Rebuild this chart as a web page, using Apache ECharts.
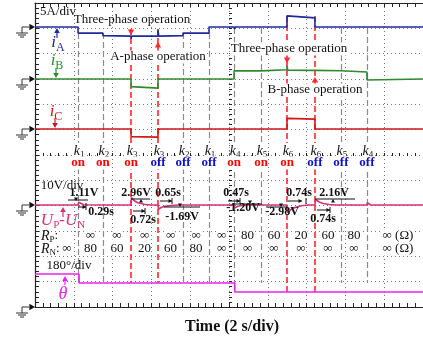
<!DOCTYPE html>
<html>
<head>
<meta charset="utf-8">
<script src="https://cdn.jsdelivr.net/npm/echarts@6/dist/echarts.min.js"></script>
<style>html,body{margin:0;padding:0;background:#fff}#main{width:423px;height:339px}</style>
</head>
<body>
<div id="main"></div>
<script>
// switching instants (s) and their labels
var tEvents = [2.22, 3.5, 4.95, 6.34, 7.63, 8.97, 10.26, 11.65, 12.99, 14.43, 15.77, 17.11];
var kIndex = ['1', '2', '3', '3', '2', '1', '4', '5', '6', '6', '5', '4'];
var kState = ['on', 'on', 'on', 'off', 'off', 'off', 'on', 'on', 'on', 'off', 'off', 'off'];
var redEvents = [2, 3, 8, 9];
var rpLabels = ['', '∞', '∞', '∞', '∞', '∞', '∞', '80', '60', '20', '60', '80', '∞ (Ω)'];
var rnLabels = ['∞', '80', '60', '20', '60', '80', '∞', '∞', '∞', '∞', '∞', '∞', '∞ (Ω)'];

// traces [time s, value]
var iA = [[0,0],[2.22,0],[2.22,-1.2],[3.5,-1.2],[3.5,-1.7],[4.95,-1.8],[4.95,-2.3],[4.99,-1.8],[6.34,-1.8],[6.34,-0.6],[6.38,-1.8],[7.63,-1.7],[7.63,-1.2],[8.97,-1.2],[8.97,0],[10.26,0],[10.28,-0.4],[10.31,0],[12.99,0],[12.99,2.2],[14.43,1.8],[14.43,0],[20,0]];
var iB = [[0,0],[4.95,0],[4.95,-1.5],[4.98,-1.8],[6.34,-1.8],[6.34,0],[10.26,0],[10.26,1.6],[11.65,1.6],[11.65,1.84],[12.99,1.82],[12.99,2.6],[13.03,1.75],[14.43,1.7],[14.43,1.64],[15.77,1.62],[15.77,1.4],[17.11,1.38],[17.11,-0.2],[17.2,0],[20,0]];
var iC = [[0,0],[4.95,0],[4.95,-1.5],[6.34,-1.6],[6.34,0],[12.99,0],[12.99,2.1],[14.43,1.95],[14.43,0],[17.3,0],[17.35,-0.15],[17.5,0],[20,0]];
var uPN = [[0,0],[2.22,0],[2.25,1.11],[2.51,0.1],[3.5,0],[3.52,0.6],[3.7,0],[4.95,0],[4.97,2.96],[5.1,1.8],[5.3,0.9],[5.67,0.2],[6.0,0],[6.34,0],[6.36,-1.69],[6.5,-1.0],[6.7,-0.5],[6.99,-0.2],[7.4,0],[7.63,0],[7.65,-0.5],[7.8,0],[8.97,0],[8.99,0.7],[9.15,0],[10.26,0],[10.28,-1.2],[10.45,-0.5],[10.73,-0.1],[11.0,0],[11.65,0],[11.67,-0.6],[11.9,0],[12.99,0],[13.01,-2.98],[13.2,-1.8],[13.4,-1.0],[13.73,-0.3],[14.1,0],[14.43,0],[14.45,2.16],[14.65,1.2],[14.85,0.6],[15.17,0.2],[15.5,0],[15.77,0],[15.79,0.4],[16.0,0],[17.11,0],[17.13,0.9],[17.3,0],[20,0]];
var theta = [[0,234],[2.27,234],[2.27,171],[10.3,171],[10.3,107],[20,107]];

// ground offset (div) and volts/amps/deg per div
function toDiv(data, ground, perDiv) {
    return data.map(function (p) { return [p[0], ground + p[1] / perDiv]; });
}
var DIV = 304 / 12;
function pyDiv(py) { return (307 - py) / DIV; }

var serif = 'Liberation Serif';
var cBlue = '#1f2a9e', cGreen = '#2f8a2f', cRed = '#d01818', cPink = '#d8307a', cMag = '#ee22ee';

var myChart = echarts.init(document.getElementById('main'));

var marks = [];
for (var i = 0; i < tEvents.length; i++) {
    var isRed = redEvents.indexOf(i) >= 0;
    var yTop = isRed ? (i >= 8 ? pyDiv(16) : pyDiv(29)) : (i < 6 ? pyDiv(33) : pyDiv(28));
    var yBot = isRed ? (i >= 8 ? pyDiv(292) : pyDiv(283)) : pyDiv(283);
    marks.push([
        {coord: [tEvents[i], yTop], lineStyle: {color: isRed ? '#ff2a2a' : '#8a8a8a', type: [6, 3], width: isRed ? 1.6 : 1.2}},
        {coord: [tEvents[i], yBot]}
    ]);
}

function trace(name, data, color) {
    return {
        name: name, type: 'line', data: data, showSymbol: false, animation: false,
        lineStyle: {color: color, width: 1.6}, z: 5
    };
}

function hidden(extra) {
    var a = {type: 'value', axisLine: {show: false}, axisTick: {show: false}, axisLabel: {show: false}, splitLine: {show: false}};
    for (var k in extra) a[k] = extra[k];
    return a;
}

var option = {
    animation: false,
    grid: [
        {left: 35, right: 0, top: 3, bottom: 32},
        {left: 35, right: 0, top: 155, height: 1},
        {left: 229, width: 1, top: 3, bottom: 32}
    ],
    xAxis: [
        {type: 'value', gridIndex: 0, min: 0, max: 20, interval: 2, position: 'bottom',
         axisLine: {onZero: false, lineStyle: {color: '#222', width: 1.2}},
         axisTick: {inside: true, length: 4, lineStyle: {color: '#222'}},
         minorTick: {show: true, splitNumber: 5, length: 4, lineStyle: {color: '#222'}},
         axisLabel: {show: false},
         splitLine: {show: true, lineStyle: {color: '#777', type: [1, 3]}}},
        {type: 'value', gridIndex: 0, min: 0, max: 20, interval: 2, position: 'top',
         axisLine: {onZero: false, lineStyle: {color: '#222', width: 1.2}},
         axisTick: {inside: true, length: 4, lineStyle: {color: '#222'}},
         minorTick: {show: true, splitNumber: 5, length: 4, lineStyle: {color: '#222'}},
         axisLabel: {show: false}, splitLine: {show: false}},
        {type: 'value', gridIndex: 1, min: 0, max: 20, interval: 2, position: 'bottom',
         axisLine: {show: false, onZero: false},
         axisTick: {show: true, inside: true, length: 3, lineStyle: {color: '#222'}},
         minorTick: {show: true, splitNumber: 5, length: 3, lineStyle: {color: '#222'}},
         axisLabel: {show: false}, splitLine: {show: false}},
        hidden({gridIndex: 2, min: 0, max: 1})
    ],
    yAxis: [
        {type: 'value', gridIndex: 0, min: 0, max: 12, interval: 1, position: 'left',
         axisLine: {onZero: false, lineStyle: {color: '#222', width: 1.2}},
         axisTick: {inside: true, length: 4, lineStyle: {color: '#222'}},
         minorTick: {show: true, splitNumber: 5, length: 4, lineStyle: {color: '#222'}},
         axisLabel: {show: false},
         splitLine: {show: true, lineStyle: {color: '#777', type: [1, 3]}}},
        hidden({gridIndex: 1, min: 0, max: 1}),
        {type: 'value', gridIndex: 2, min: 0, max: 12, interval: 1, position: 'left',
         axisLine: {show: false, onZero: false},
         axisTick: {show: true, inside: true, length: 3, lineStyle: {color: '#222'}},
         minorTick: {show: true, splitNumber: 5, length: 3, lineStyle: {color: '#222'}},
         axisLabel: {show: false}, splitLine: {show: false}}
    ],
    series: [
        Object.assign(trace('theta', toDiv(theta, 0, 180), cMag), {
            markLine: {silent: true, symbol: ['none', 'none'], label: {show: false}, animation: false, data: marks}
        }),
        trace('uPN', toDiv(uPN, pyDiv(205), 10), cPink),
        trace('iC', toDiv(iC, pyDiv(129), 5), cRed),
        trace('iB', toDiv(iB, pyDiv(79), 5), cGreen),
        trace('iA', toDiv(iA, pyDiv(27), 5), cBlue)
    ]
};
myChart.setOption(option);

function px(t) { return myChart.convertToPixel({xAxisIndex: 0}, t); }

var g = [];
function txt(x, y, text, font, color, extra) {
    var s = {text: text, font: font, fill: color || '#111', align: 'center', verticalAlign: 'middle'};
    if (extra) for (var k in extra) s[k] = extra[k];
    g.push({type: 'text', x: x, y: y, z: 50, style: s});
}
function seg(x1, y1, x2, y2, color, w) {
    g.push({type: 'line', z: 40, shape: {x1: x1, y1: y1, x2: x2, y2: y2}, style: {stroke: color || '#111', lineWidth: w || 1}});
}
function tri(x, y, dir, color, s) {
    s = s || 4;
    var pts;
    if (dir === 'up') pts = [[x, y], [x - s * 0.8, y + s * 1.4], [x + s * 0.8, y + s * 1.4]];
    else if (dir === 'down') pts = [[x, y], [x - s * 0.8, y - s * 1.4], [x + s * 0.8, y - s * 1.4]];
    else if (dir === 'right') pts = [[x, y], [x - s * 1.4, y - s * 0.8], [x - s * 1.4, y + s * 0.8]];
    else pts = [[x, y], [x + s * 1.4, y - s * 0.8], [x + s * 1.4, y + s * 0.8]];
    g.push({type: 'polygon', z: 45, shape: {points: pts}, style: {fill: color || '#111'}});
}

// ground markers
[27, 79, 129, 205, 307].forEach(function (y) {
    tri(35, y, 'right', '#111', 4);
    seg(22, y, 29, y, '#333');
    seg(22, y, 22, y + 6, '#333');
    seg(16, y + 6, 28, y + 6, '#333');
    seg(18, y + 8, 26, y + 8, '#333');
    seg(20, y + 10, 24, y + 10, '#333');
});

var f13 = '13px ' + serif;
txt(58, 12, '5A/div', f13, '#111');
txt(132, 20, 'Three-phase operation', f13, '#111');
txt(158, 57, 'A-phase operation', f13, '#111', {backgroundColor: '#fff', padding: [0, 1]});
txt(289, 49, 'Three-phase operation', f13, '#111', {backgroundColor: '#fff', padding: [0, 1]});
txt(315, 90, 'B-phase operation', f13, '#111', {backgroundColor: '#fff', padding: [0, 1]});

// red operation arrows
tri(px(tEvents[2]), 35, 'down', '#ff2a2a', 4);
tri(px(tEvents[3]), 42, 'up', '#ff2a2a', 4);
tri(px(tEvents[8]), 63, 'down', '#ff2a2a', 4);
tri(px(tEvents[9]), 77, 'up', '#ff2a2a', 4);

// trace labels
function sub(main, s, color, size) {
    return {
        text: '{m|' + main + '}{s|' + s + '}',
        rich: {
            m: {fontFamily: serif, fontStyle: 'italic', fontSize: size, fill: color, lineHeight: size + 4, verticalAlign: 'middle'},
            s: {fontFamily: serif, fontSize: Math.round(size * 0.68), fill: color, lineHeight: size + 4, verticalAlign: 'bottom'}
        }
    };
}
function richTxt(x, y, obj, extra) {
    var s = {text: obj.text, rich: obj.rich, align: 'center', verticalAlign: 'middle'};
    if (extra) for (var k in extra) s[k] = extra[k];
    g.push({type: 'text', x: x, y: y, z: 50, style: s});
}
richTxt(58, 43, sub('i', 'A', cBlue, 17));
seg(57, 33, 57, 38, cBlue, 1.2); tri(57, 28, 'up', cBlue, 3.5);
richTxt(57, 61, sub('i', 'B', cGreen, 17));
seg(56, 68, 56, 73, cGreen, 1.2); tri(56, 78, 'down', cGreen, 3.5);
richTxt(56, 112, sub('i', 'C', cRed, 17));
seg(55, 118, 55, 123, cRed, 1.2); tri(55, 128, 'down', cRed, 3.5);

txt(62, 186, '10V/div', f13, '#111');
g.push({type: 'text', x: 63, y: 221, z: 50, style: {
    text: '{m|U}{s|P}{d|-}{m|U}{s|N}', align: 'center', verticalAlign: 'middle',
    rich: {
        m: {fontFamily: serif, fontStyle: 'italic', fontSize: 17, fill: cPink, lineHeight: 20, verticalAlign: 'middle'},
        s: {fontFamily: serif, fontSize: 11, fill: cPink, lineHeight: 20, verticalAlign: 'bottom'},
        d: {fontFamily: serif, fontSize: 17, fill: cPink, lineHeight: 20, verticalAlign: 'middle'}
    }}});
seg(63, 212, 63, 217, cPink, 1.2); tri(63, 207, 'up', cPink, 3.5);

txt(69, 266, '180°/div', f13, '#111');
txt(63, 294, 'θ', 'italic 18px ' + serif, cMag);
seg(65, 281, 65, 285, cMag, 1.2); tri(65, 276, 'up', cMag, 3.5);

// switch labels
var kRich = {
    k: {fontFamily: serif, fontStyle: 'italic', fontSize: 14, fill: '#111', lineHeight: 16, verticalAlign: 'middle'},
    s: {fontFamily: serif, fontSize: 9, fill: '#111', lineHeight: 16, verticalAlign: 'bottom'}
};
for (var j = 0; j < tEvents.length; j++) {
    var x = px(tEvents[j]);
    g.push({type: 'text', x: x + 1, y: 151, z: 50, style: {text: '{k|k}{s|' + kIndex[j] + '}', rich: kRich, align: 'center', verticalAlign: 'middle', backgroundColor: '#fff'}});
    txt(x, 163, kState[j], 'bold 13px ' + serif, kState[j] === 'on' ? '#ff0000' : '#1010c8', {backgroundColor: '#fff'});
}

// resistor rows
var rRich = {
    r: {fontFamily: serif, fontStyle: 'italic', fontSize: 14, fill: '#111', lineHeight: 16, verticalAlign: 'middle'},
    s: {fontFamily: serif, fontSize: 9, fill: '#111', lineHeight: 16, verticalAlign: 'bottom'},
    c: {fontFamily: serif, fontSize: 13, fill: '#111', lineHeight: 16, verticalAlign: 'middle'}
};
g.push({type: 'text', x: 41, y: 236, z: 50, style: {text: '{r|R}{s|P}{c|:}', rich: rRich, align: 'left', verticalAlign: 'middle'}});
g.push({type: 'text', x: 41, y: 249, z: 50, style: {text: '{r|R}{s|N}{c|:}', rich: rRich, align: 'left', verticalAlign: 'middle'}});
var bounds = [0].concat(tEvents).concat([20]);
for (var m = 0; m < rpLabels.length; m++) {
    var cx = (px(bounds[m]) + px(bounds[m + 1])) / 2;
    if (m === 0) cx = 67;
    if (m === rpLabels.length - 1) cx = 398;
    var fnt = '13px ' + serif;
    if (rpLabels[m]) txt(cx, 236, rpLabels[m], fnt, '#111', {backgroundColor: '#fff'});
    txt(cx, 249, rnLabels[m], fnt, '#111', {backgroundColor: '#fff'});
}

// measurement annotations on UP-UN
var fb = 'bold 12px ' + serif;
txt(84, 193, '1.11V', fb); seg(68, 200, 88, 200); tri(76, 201, 'down', '#111', 2.5);
txt(101, 212, '0.29s', fb); seg(78, 207, 86, 207); tri(86, 207, 'right', '#111', 2.5); seg(86, 203, 86, 210);
txt(136, 193, '2.96V', fb); seg(131, 199, 150, 199); tri(141, 199, 'up', '#111', 2.5);
txt(143, 220, '0.72s', fb); seg(133, 211, 145, 211); tri(145, 211, 'right', '#111', 2.5); seg(145, 208, 145, 214);
txt(168, 193, '0.65s', fb); seg(160, 201, 172, 201); tri(172, 201, 'right', '#111', 2.5); seg(172, 198, 172, 204);
txt(182, 217, '-1.69V', fb); seg(164, 207, 200, 207); tri(180, 207, 'down', '#111', 2.5);
txt(236, 193, '0.47s', fb); seg(228, 201, 240, 201); tri(240, 201, 'right', '#111', 2.5); seg(240, 198, 240, 204);
txt(243, 208, '-1.20V', fb); seg(232, 204, 262, 204); tri(250, 204, 'down', '#111', 2.5);
txt(282, 212, '-2.98V', fb); seg(266, 207, 287, 207); tri(281, 207, 'down', '#111', 2.5);
txt(299, 193, '0.74s', fb); seg(288, 201, 302, 201); tri(302, 201, 'right', '#111', 2.5); seg(306, 198, 306, 204);
txt(334, 193, '2.16V', fb); seg(315, 199, 355, 199); tri(333, 199, 'up', '#111', 2.5);
txt(323, 219, '0.74s', fb); seg(317, 210, 330, 210); tri(330, 210, 'right', '#111', 2.5); seg(330, 207, 330, 213);

txt(232, 327, 'Time (2 s/div)', 'bold 16px ' + serif, '#111');

myChart.setOption({graphic: g});
</script>
</body>
</html>
